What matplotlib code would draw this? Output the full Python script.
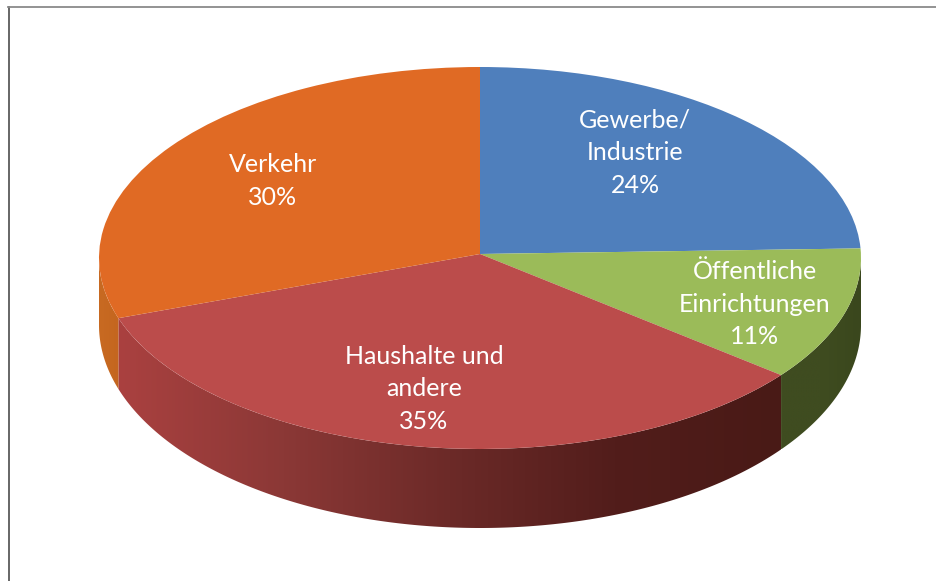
#!/usr/bin/env python3
"""Pie chart drawn as a tilted disc, German labels."""

import matplotlib

matplotlib.use("Agg")
import matplotlib.pyplot as plt
import numpy as np
from matplotlib.colors import LinearSegmentedColormap, to_rgb
from matplotlib.patches import Polygon

categories = ["Gewerbe/\nIndustrie", "Öffentliche\nEinrichtungen", "Haushalte und\nandere", "Verkehr"]
# slice sizes, printed labels are the rounded figures
shares = [24.2, 11.3, 34.4, 30.1]
printed = [24, 11, 35, 30]

TOP_COLORS = ["#4f7fbc", "#9bbb59", "#bb4c4b", "#e06a24"]
# wall shading left to right, None = wall not visible
WALL_COLORS = [
    None,
    ["#3f4c20", "#3f4c20", "#3a471d"],
    ["#aa4140", "#8b3836", "#6c2a28", "#521d1b", "#491a16"],
    ["#c86a22", "#c4661f"],
]
LABEL_POS = [(635, 153), (755, 304), (424, 389), (273, 181)]

# picture geometry in pixels
W, H = 936, 581
CX, CY, RX, RY = 480, 258, 381, 191
APEX_Y = 254
BOTTOM_CY, BOTTOM_RY = 325, 203

plt.rcParams["font.family"] = ["Lato", "DejaVu Sans"]


def px(x, y):
    return (x - CX) / RX, (CY - y) / RY


def draw_wall(ax, a_start, a_end, colors):
    """Side of the disc between two angles (degrees, a_start < a_end, lower half)."""
    t = np.radians(np.linspace(a_start, a_end, 200))
    xs = np.cos(t)
    top = np.sin(t)
    bottom = (CY - BOTTOM_CY) / RY + BOTTOM_RY / RY * np.sin(t)
    outline = np.column_stack([np.r_[xs, xs[::-1]], np.r_[top, bottom[::-1]]])
    clip = Polygon(outline, closed=True, transform=ax.transData, fc="none", ec="none")
    ax.add_patch(clip)
    cmap = LinearSegmentedColormap.from_list("wall", [to_rgb(c) for c in colors])
    img = ax.imshow(
        np.linspace(0, 1, 256)[None, :],
        cmap=cmap,
        extent=(xs.min(), xs.max(), bottom.min(), top.max()),
        aspect="auto",
        zorder=1,
    )
    img.set_clip_path(clip)


fig = plt.figure(figsize=(W / 100, H / 100), dpi=100)
ax = fig.add_axes([0, 0, 1, 1])

# walls, angles follow the slices going clockwise from 12 o'clock
edges = 90 - np.cumsum([0] + shares) * 3.6
for i, colors in enumerate(WALL_COLORS):
    if colors is None:
        continue
    a_end, a_start = edges[i] + 360, edges[i + 1] + 360
    a_start, a_end = max(a_start, 180), min(a_end, 360)
    draw_wall(ax, a_start, a_end, colors)

wedges, _ = ax.pie(
    shares,
    colors=TOP_COLORS,
    startangle=90,
    counterclock=False,
    radius=1,
    wedgeprops={"linewidth": 0, "zorder": 2},
)

# the slices meet slightly above the middle of the ellipse
for wedge in wedges:
    path = wedge.get_path()
    verts = path.vertices.copy()
    verts[np.hypot(verts[:, 0], verts[:, 1]) < 1e-6, 1] = px(CX, APEX_Y)[1]
    path.vertices = verts

# stretch the unit circle into the disc ellipse
ax.set_aspect("auto")
ax.set_xlim(px(0, 0)[0], px(W, 0)[0])
ax.set_ylim(px(0, H)[1], px(0, 0)[1])
ax.axis("off")

for name, pct, (x, y) in zip(categories, printed, LABEL_POS):
    lx, ly = px(x, y)
    ax.text(lx, ly, f"{name}\n{pct}%", color="white", fontsize=18, ha="center",
            va="center", linespacing=1.5, zorder=3)

# frame of the scan, left and top only
fig.add_artist(plt.Line2D([8.5 / W, 8.5 / W], [0, 1 - 7 / H], color="#5a5a5a", lw=1.3))
fig.add_artist(plt.Line2D([8 / W, 1], [1 - 7 / H, 1 - 7 / H], color="#8a8a8a", lw=1.3))

fig.savefig("out.png", dpi=100)
